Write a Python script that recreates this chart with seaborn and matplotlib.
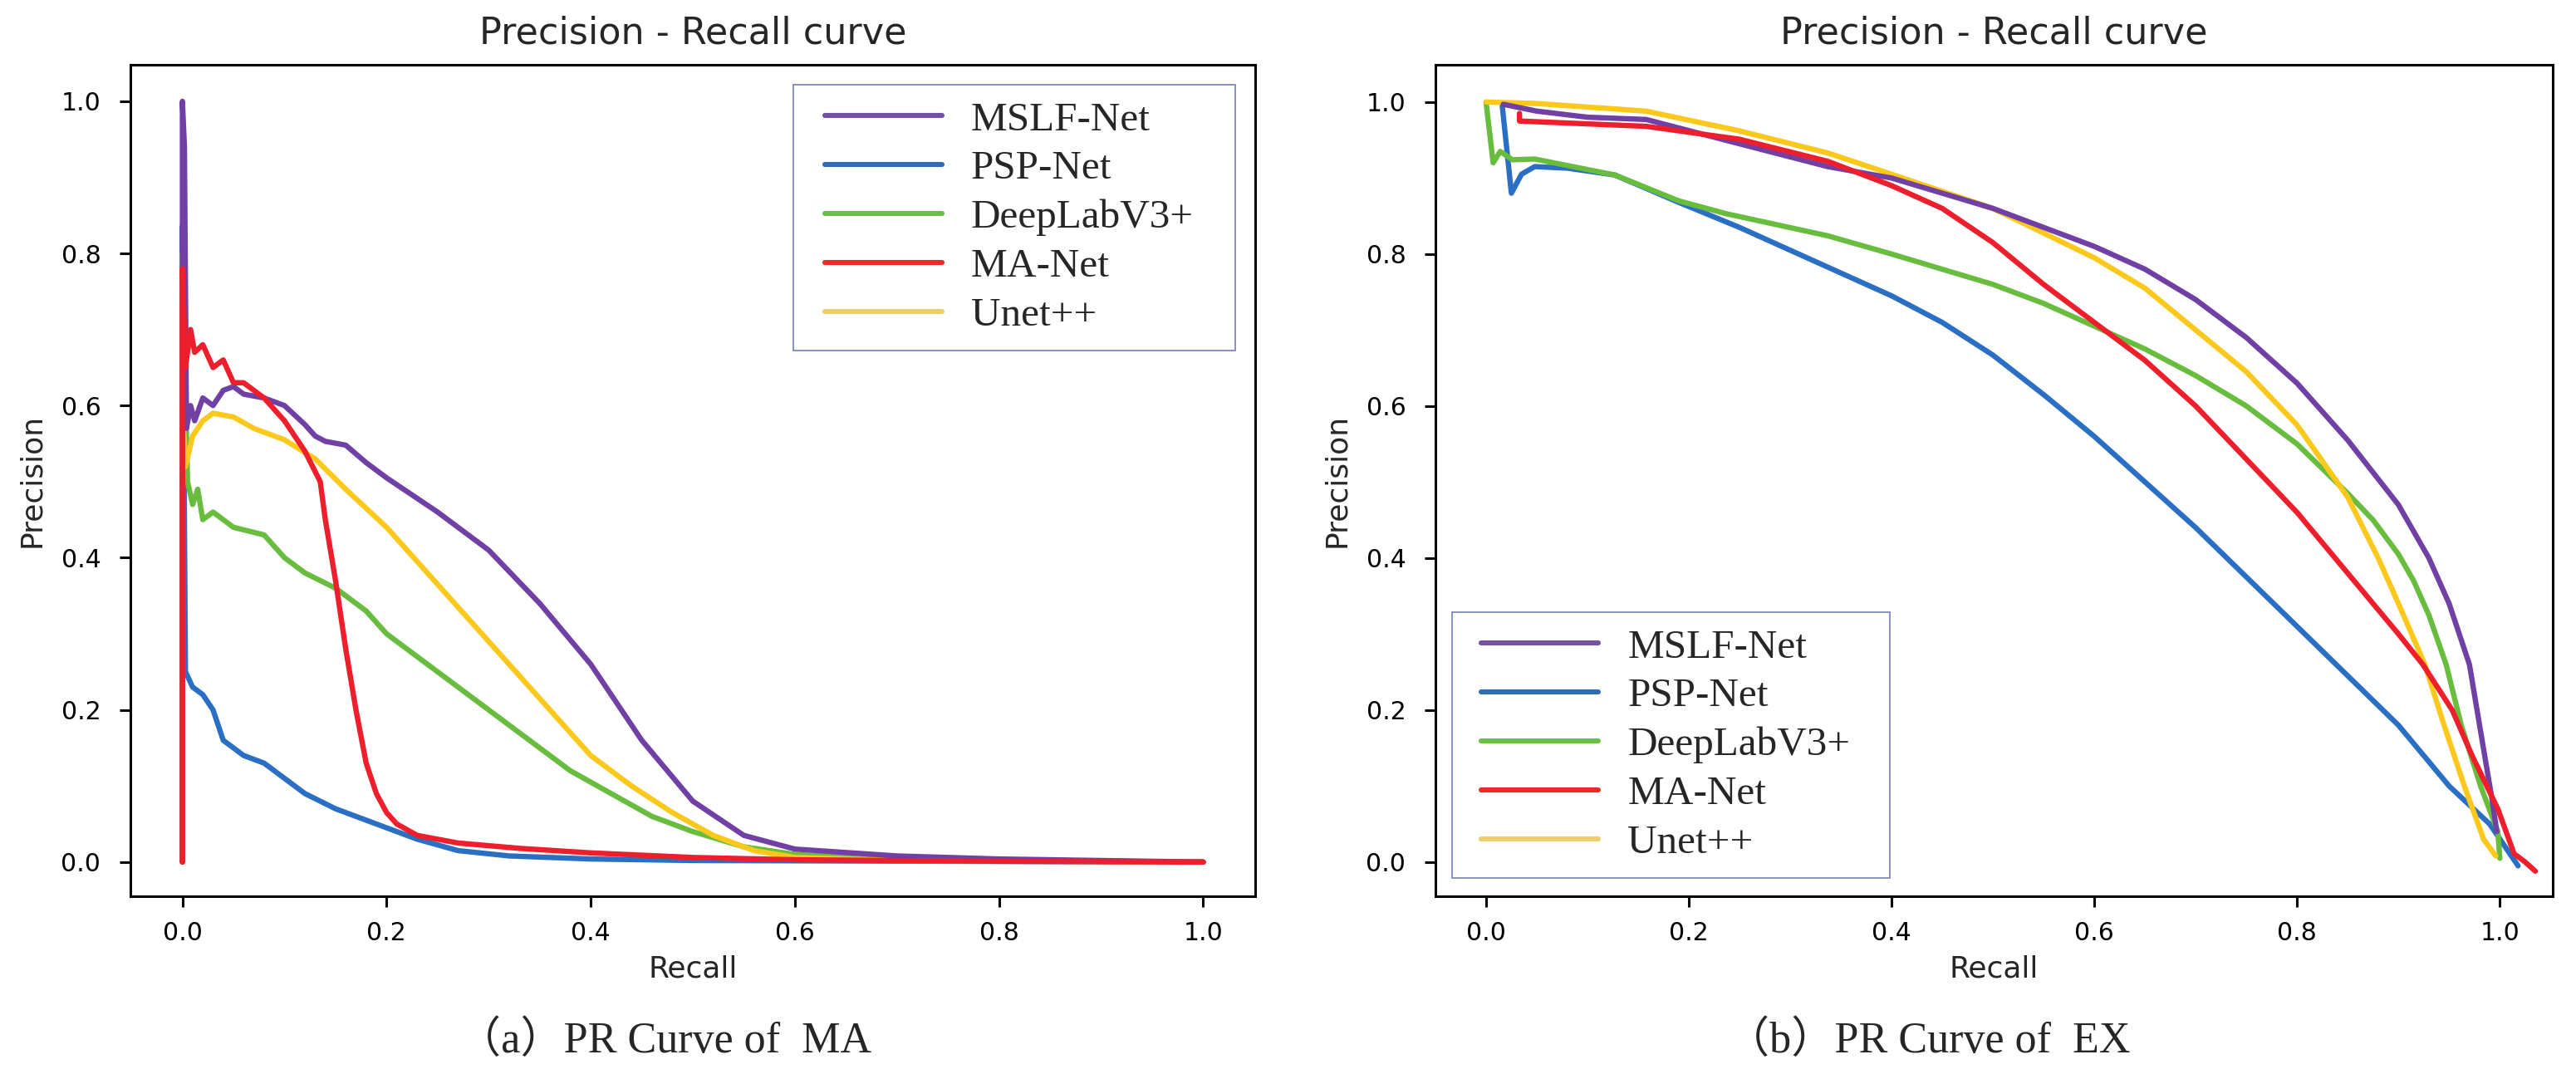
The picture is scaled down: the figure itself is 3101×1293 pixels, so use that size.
import pandas as pd
import matplotlib.pyplot as plt
import seaborn as sns
from matplotlib.lines import Line2D
from matplotlib.patches import Rectangle

# ---- data (recall, precision) ----
models = ['MSLF-Net', 'PSP-Net', 'DeepLabV3+', 'MA-Net', 'Unet++']

# panel (a): MA
ma_mslf_r = [0.0, 0.0, 0.002, 0.004, 0.008, 0.012, 0.02, 0.03, 0.04, 0.05, 0.06, 0.08, 0.1, 0.12, 0.13, 0.14,
             0.16, 0.18, 0.2, 0.25, 0.3, 0.35, 0.4, 0.43, 0.45, 0.5, 0.55, 0.6, 0.7, 0.8, 1.0]
ma_mslf_p = [0.0, 1.0, 0.94, 0.57, 0.6, 0.58, 0.61, 0.6, 0.62, 0.625, 0.615, 0.61, 0.6, 0.575, 0.56, 0.553,
             0.548, 0.525, 0.505, 0.46, 0.41, 0.34, 0.26, 0.2, 0.16, 0.08, 0.035, 0.017, 0.008, 0.004, 0.0]
ma_psp_r = [0.0, 0.0, 0.003, 0.01, 0.02, 0.03, 0.04, 0.06, 0.08, 0.1, 0.12, 0.15, 0.17, 0.2, 0.23, 0.27, 0.32,
            0.4, 0.5, 1.0]
ma_psp_p = [0.0, 0.836, 0.25, 0.23, 0.22, 0.2, 0.16, 0.14, 0.13, 0.11, 0.09, 0.07, 0.06, 0.045, 0.03, 0.015, 0.008,
            0.004, 0.002, 0.0]
ma_dlab_r = [0.0, 0.0, 0.005, 0.01, 0.015, 0.02, 0.03, 0.05, 0.08, 0.1, 0.12, 0.15, 0.18, 0.2, 0.23, 0.26, 0.3,
             0.34, 0.38, 0.42, 0.46, 0.5, 0.55, 0.6, 0.7, 1.0]
ma_dlab_p = [0.0, 0.8, 0.5, 0.47, 0.49, 0.45, 0.46, 0.44, 0.43, 0.4, 0.38, 0.36, 0.33, 0.3, 0.27, 0.24, 0.2,
             0.16, 0.12, 0.09, 0.06, 0.04, 0.02, 0.01, 0.003, 0.0]
ma_manet_r = [0.0, 0.0, 0.003, 0.008, 0.012, 0.02, 0.03, 0.04, 0.05, 0.06, 0.08, 0.1, 0.12, 0.135, 0.14, 0.15,
              0.16, 0.17, 0.18, 0.19, 0.2, 0.21, 0.23, 0.27, 0.33, 0.4, 0.5, 0.6, 0.8, 1.0]
ma_manet_p = [0.0, 0.78, 0.65, 0.7, 0.67, 0.68, 0.65, 0.66, 0.63, 0.63, 0.61, 0.58, 0.54, 0.5, 0.45, 0.37,
              0.28, 0.2, 0.13, 0.09, 0.065, 0.05, 0.035, 0.025, 0.018, 0.012, 0.006, 0.003, 0.001, 0.0]
ma_unet_r = [0.0, 0.0, 0.003, 0.01, 0.02, 0.03, 0.05, 0.07, 0.1, 0.13, 0.16, 0.2, 0.24, 0.28, 0.32, 0.36, 0.4,
             0.44, 0.48, 0.52, 0.56, 0.6, 0.7, 1.0]
ma_unet_p = [0.0, 0.6, 0.52, 0.56, 0.58, 0.59, 0.585, 0.57, 0.555, 0.53, 0.49, 0.44, 0.38, 0.32, 0.26, 0.2, 0.14,
             0.1, 0.065, 0.035, 0.015, 0.006, 0.002, 0.0]

# panel (b): EX
ex_mslf_r = [0.017, 0.05, 0.1, 0.158, 0.25, 0.337, 0.4, 0.5, 0.6, 0.65, 0.7, 0.75, 0.8, 0.85, 0.9, 0.93, 0.95,
             0.97, 0.98, 0.992, 0.997]
ex_mslf_p = [0.997, 0.988, 0.98, 0.977, 0.945, 0.915, 0.9, 0.86, 0.81, 0.78, 0.74, 0.69, 0.63, 0.555, 0.47, 0.4,
             0.34, 0.26, 0.18, 0.085, 0.04]
ex_psp_r = [0.016, 0.025, 0.035, 0.048, 0.08, 0.127, 0.19, 0.25, 0.3, 0.35, 0.4, 0.45, 0.5, 0.55, 0.6, 0.65, 0.7,
            0.75, 0.8, 0.85, 0.9, 0.95, 0.99, 1.018]
ex_psp_p = [0.995, 0.88, 0.905, 0.915, 0.913, 0.904, 0.868, 0.835, 0.805, 0.775, 0.745, 0.71, 0.667, 0.615, 0.56,
            0.5, 0.44, 0.375, 0.31, 0.245, 0.18, 0.1, 0.05, -0.005]
ex_dlab_r = [0.0, 0.007, 0.014, 0.026, 0.048, 0.127, 0.19, 0.237, 0.337, 0.4, 0.45, 0.5, 0.55, 0.6, 0.65, 0.7,
             0.75, 0.8, 0.85, 0.875, 0.9, 0.915, 0.93, 0.947, 0.962, 0.981, 0.998, 1.0]
ex_dlab_p = [1.0, 0.92, 0.935, 0.924, 0.925, 0.904, 0.87, 0.853, 0.824, 0.8, 0.78, 0.76, 0.735, 0.705, 0.675,
             0.64, 0.6, 0.55, 0.485, 0.45, 0.405, 0.37, 0.325, 0.26, 0.18, 0.1, 0.04, 0.005]
ex_manet_r = [0.033, 0.033, 0.158, 0.25, 0.337, 0.4, 0.45, 0.5, 0.55, 0.6, 0.65, 0.7, 0.75, 0.8, 0.85, 0.9,
              0.924, 0.953, 0.973, 0.998, 1.014, 1.025, 1.035]
ex_manet_p = [0.985, 0.975, 0.968, 0.951, 0.922, 0.89, 0.86, 0.815, 0.76, 0.71, 0.66, 0.6, 0.53, 0.46, 0.38,
              0.3, 0.26, 0.2, 0.139, 0.07, 0.011, 0.0, -0.012]
ex_unet_r = [0.0, 0.05, 0.158, 0.25, 0.337, 0.4, 0.5, 0.6, 0.65, 0.7, 0.75, 0.8, 0.85, 0.88, 0.9, 0.926, 0.945,
             0.965, 0.984, 0.996]
ex_unet_p = [1.0, 0.998, 0.988, 0.962, 0.933, 0.905, 0.86, 0.795, 0.755, 0.7, 0.645, 0.575, 0.48, 0.4, 0.34,
             0.26, 0.18, 0.1, 0.03, 0.008]

line_colors = {'MSLF-Net': '#7040a4', 'PSP-Net': '#2a6fc4', 'DeepLabV3+': '#68bd3e',
               'MA-Net': '#ee1f2c', 'Unet++': '#fbc81c'}
legend_colors = ['#7452a2', '#2c6cb8', '#69bf4a', '#ec2a2a', '#eecd6b']
draw_order = ['PSP-Net', 'DeepLabV3+', 'Unet++', 'MSLF-Net', 'MA-Net']


def to_frame(curves):
    rows = []
    for name in draw_order:
        r, p = curves[name]
        rows.append(pd.DataFrame({'recall': r, 'precision': p, 'model': name}))
    return pd.concat(rows, ignore_index=True)


df_ma = to_frame({'MSLF-Net': (ma_mslf_r, ma_mslf_p), 'PSP-Net': (ma_psp_r, ma_psp_p),
                  'DeepLabV3+': (ma_dlab_r, ma_dlab_p), 'MA-Net': (ma_manet_r, ma_manet_p),
                  'Unet++': (ma_unet_r, ma_unet_p)})
df_ex = to_frame({'MSLF-Net': (ex_mslf_r, ex_mslf_p), 'PSP-Net': (ex_psp_r, ex_psp_p),
                  'DeepLabV3+': (ex_dlab_r, ex_dlab_p), 'MA-Net': (ex_manet_r, ex_manet_p),
                  'Unet++': (ex_unet_r, ex_unet_p)})

sns.set_style('ticks')
plt.rcParams['font.family'] = ['DejaVu Sans']
plt.rcParams['axes.edgecolor'] = 'black'
plt.rcParams['axes.linewidth'] = 2.2
plt.rcParams['xtick.color'] = 'black'
plt.rcParams['ytick.color'] = 'black'

W, H = 3101, 1293
fig = plt.figure(figsize=(W / 100, H / 100), dpi=100)
ax1 = fig.add_axes([0.0506, 0.1655, 0.4367, 0.7742])
ax2 = fig.add_axes([0.5572, 0.1655, 0.4337, 0.7742])

serif = ['Liberation Serif', 'Noto Sans CJK SC']

# legend frame boxes in pixels: left, top, right, bottom
panels = [
    (ax1, df_ma, (955, 102, 1487, 422), '（a）PR Curve of  MA', 800),
    (ax2, df_ex, (1748, 737, 2275, 1057), '（b）PR Curve of  EX', 2321),
]

for ax, df, box, cap, cap_px in panels:
    sns.lineplot(data=df, x='recall', y='precision', hue='model', hue_order=draw_order,
                 palette=line_colors, sort=False, estimator=None, linewidth=4.6,
                 legend=False, ax=ax)
    ax.set_title('Precision - Recall curve', fontsize=32, pad=18.5)
    ax.set_xlabel('Recall', fontsize=26, labelpad=8)
    ax.set_ylabel('Precision', fontsize=26, labelpad=13)
    ax.tick_params(labelsize=21.5, length=9.6, width=2.2)
    ax.tick_params(axis='x', pad=12)
    ax.tick_params(axis='y', pad=16)
    ax.set_xticks([0.0, 0.2, 0.4, 0.6, 0.8, 1.0])
    ax.set_yticks([0.0, 0.2, 0.4, 0.6, 0.8, 1.0])
    for s in ax.spines.values():
        s.set_visible(True)

    # hand-placed legend frame, as in the reference (wider side padding than matplotlib gives)
    l, t, r, b = box
    frame = Rectangle((l / W, 1 - b / H), (r - l) / W, (b - t) / H, transform=fig.transFigure,
                      facecolor='white', edgecolor='#8088b8', linewidth=1.3, zorder=4.5, clip_on=False)
    ax.add_patch(frame)
    handles = [Line2D([], [], color=c, linewidth=4.4) for c in legend_colors]
    ax.legend(handles, models, loc='center', bbox_to_anchor=((l + r) / 2 / W - 0.002, 1 - (t + b) / 2 / H),
              bbox_transform=fig.transFigure, prop={'family': serif, 'size': 35.5},
              handlelength=2.86, handletextpad=0.71, labelspacing=0.29, borderpad=0.2,
              frameon=False)

    fig.text(cap_px / W, 0.0201, cap, ha='center', va='baseline', fontsize=37.5, family=serif)

ax1.set_xlim(-0.051, 1.051)
ax1.set_ylim(-0.045, 1.048)
ax2.set_xlim(-0.05, 1.052)
ax2.set_ylim(-0.045, 1.049)

fig.savefig('out.png', dpi=100, facecolor='white')
